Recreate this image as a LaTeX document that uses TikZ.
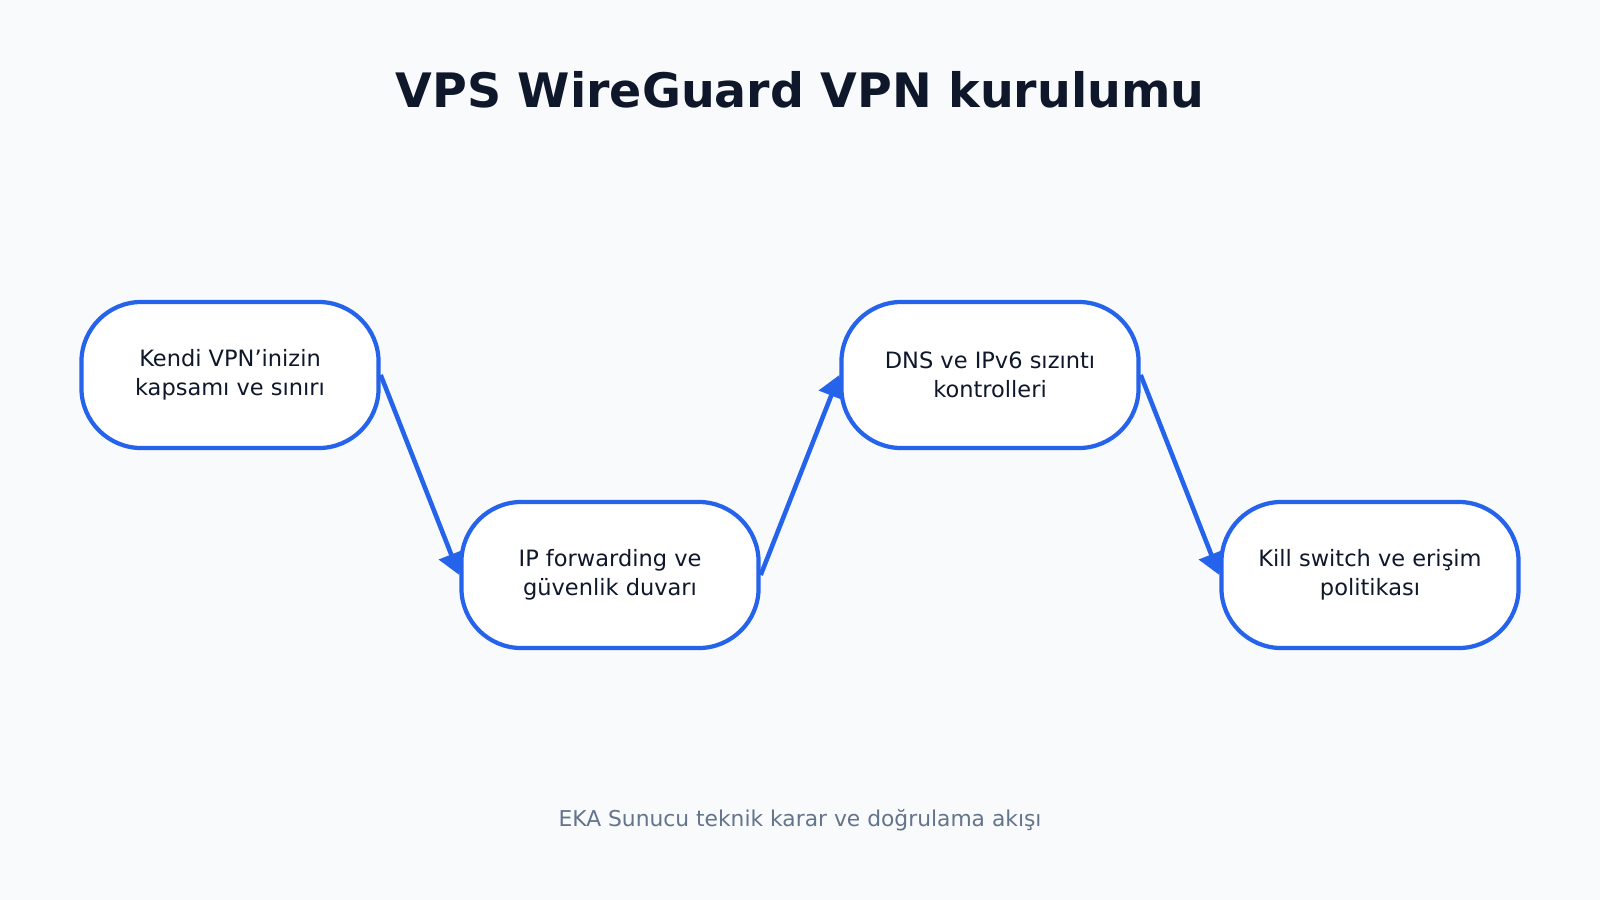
\documentclass[tikz,border=0pt]{standalone}
\usepackage{fontspec}
\setmainfont{DejaVu Sans}
\usepackage{tikz}
\usetikzlibrary{positioning,arrows.meta}
\definecolor{bgcol}{HTML}{F8FAFC}
\definecolor{stepblue}{HTML}{2563EB}
\definecolor{titlecol}{HTML}{0F172A}
\definecolor{footcol}{HTML}{64748B}

\begin{document}
\begin{tikzpicture}[x=0.01cm,y=-0.01cm,
	stepnode/.style={rectangle, rounded corners=0.6cm, draw=stepblue, fill=white, line width=1.2pt, minimum width=2.97cm, minimum height=1.46cm, align=center, text=titlecol, font=\fontsize{6.4}{8.2}\selectfont},
	flow/.style={draw=stepblue, line width=1.3pt, -{Triangle[length=0.22cm,width=0.26cm]}},
	]
	\fill[bgcol] (0,0) rectangle (1600,900);
	\useasboundingbox (0,0) rectangle (1600,900);
	
	%Nodes
	\node[font=\bfseries\fontsize{13.5}{16}\selectfont, text=titlecol] (Title) at (800,90) {VPS WireGuard VPN kurulumu};
	\node[stepnode] (Scope) at (230,375) {Kendi VPN’inizin\\kapsamı ve sınırı};
	\node[stepnode] (Firewall) at (610,575) {IP forwarding ve\\güvenlik duvarı};
	\node[stepnode] (Leak) at (990,375) {DNS ve IPv6 sızıntı\\kontrolleri};
	\node[stepnode] (Kill) at (1370,575) {Kill switch ve erişim\\politikası};
	\node[font=\fontsize{6.2}{8}\selectfont, text=footcol] (Footer) at (800,820) {EKA Sunucu teknik karar ve doğrulama akışı};
	
	%Lines
	\draw[flow] (Scope.east) -- (Firewall.west);
	\draw[flow] (Firewall.east) -- (Leak.west);
	\draw[flow] (Leak.east) -- (Kill.west);
	
\end{tikzpicture}
\end{document}
